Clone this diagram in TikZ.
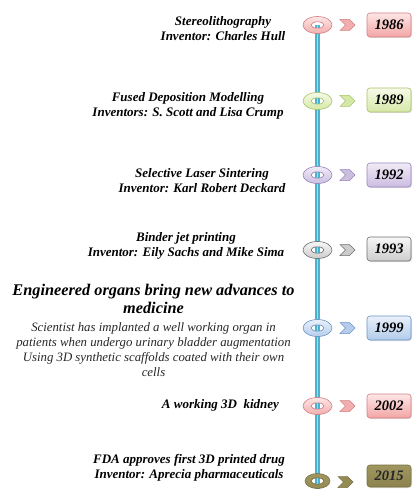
\documentclass[tikz,border=0pt]{standalone}
\usepackage{fontspec}
\setmainfont{Liberation Serif}
\newfontfamily\tnr{Liberation Serif}
\usetikzlibrary{shapes.geometric,shapes.symbols,shadows,backgrounds}
\definecolor{pinkborder}{HTML}{D27F82}
\definecolor{pinkfill}{HTML}{F2AEAE}
\definecolor{pinktop}{HTML}{FDE6E6}
\definecolor{pinkbot}{HTML}{F3A5A5}
\definecolor{greenborder}{HTML}{A6C46A}
\definecolor{greenfill}{HTML}{D5E8A6}
\definecolor{greentop}{HTML}{F6FAE9}
\definecolor{greenbot}{HTML}{D6E8A8}
\definecolor{purpleborder}{HTML}{9883BB}
\definecolor{purplefill}{HTML}{CBBEDF}
\definecolor{purpletop}{HTML}{F1ECF7}
\definecolor{purplebot}{HTML}{CBBCE0}
\definecolor{grayborder}{HTML}{6E6E6E}
\definecolor{grayfill}{HTML}{CCCCCC}
\definecolor{graytop}{HTML}{F7F7F7}
\definecolor{graybot}{HTML}{CDCDCD}
\definecolor{blueborder}{HTML}{6A92C7}
\definecolor{bluefill}{HTML}{B5CDEB}
\definecolor{bluetop}{HTML}{EAF1FB}
\definecolor{bluebot}{HTML}{B2CBEA}
\definecolor{oliveborder}{HTML}{7A7142}
\definecolor{olivefill}{HTML}{948A54}
\definecolor{olivetop}{HTML}{A0965F}
\definecolor{olivebot}{HTML}{8C824E}
\definecolor{linecol}{HTML}{4CB3CF}
\definecolor{linehi}{HTML}{9ADAE9}
\definecolor{bodytext}{HTML}{262626}
\tikzset{
  yearbox/.style={rectangle, rounded corners=3pt, minimum width=44pt, minimum height=24pt,
    inner sep=0pt, draw=#1border, line width=0.6pt, top color=#1top, bottom color=#1bot,
    drop shadow={opacity=0.25, shadow xshift=1pt, shadow yshift=-1pt},
    font=\tnr\bfseries\itshape\fontsize{14.5}{16}\selectfont},
  ringnode/.style={ellipse, minimum width=29pt, minimum height=17pt, inner sep=0pt,
    draw=#1border, line width=0.6pt,
    path picture={
      \shade[even odd rule, top color=#1top, bottom color=#1fill]
        (path picture bounding box.south west) rectangle (path picture bounding box.north east)
        (path picture bounding box.center) ellipse (6.5pt and 3.2pt);
      \draw[#1border, line width=0.6pt] (path picture bounding box.center) ellipse (6.5pt and 3.2pt);
    }},
  chev/.style={signal, signal to=east, signal from=west, draw=#1border, fill=#1fill,
    line width=0.5pt, minimum width=15pt, minimum height=11pt, inner sep=0pt},
  txt/.style={align=center, inner sep=0pt, font=\tnr\bfseries\itshape\fontsize{13}{15}\selectfont},
}
\begin{document}
\begin{tikzpicture}[x=1pt,y=-1pt]
\useasboundingbox (0,0) rectangle (412,489);
% rings
\node[ringnode=pink]   (r1) at (317.5,25)  {};
\node[ringnode=green]  (r2) at (317.5,101) {};
\node[ringnode=purple] (r3) at (317.5,175) {};
\node[ringnode=gray]   (r4) at (317.5,250) {};
\node[ringnode=blue]   (r5) at (317.5,328) {};
\node[ringnode=pink]   (r6) at (317.5,406) {};
\node[ringnode=olive, minimum width=25pt, minimum height=15pt] (r7) at (317.5,481) {};
\coordinate (bot) at (317.5,489);
\begin{pgfonlayer}{background}
\draw[linecol, line width=5pt] (r1.center) -- (bot);
\draw[linehi, line width=1.4pt] (r1.center) -- (bot);
\end{pgfonlayer}
% chevrons
\node[chev=pink]   (c1) at (347.5,25)  {};
\node[chev=green]  (c2) at (347.5,101) {};
\node[chev=purple] (c3) at (347.5,175) {};
\node[chev=gray]   (c4) at (347.5,250) {};
\node[chev=blue]   (c5) at (347.5,328) {};
\node[chev=pink]   (c6) at (347.5,406) {};
\node[chev=olive]  (c7) at (345.5,482) {};
% year boxes
\node[yearbox=pink]   (y1) at (389,25)  {1986};
\node[yearbox=green]  (y2) at (389,100) {1989};
\node[yearbox=purple] (y3) at (389,175) {1992};
\node[yearbox=gray]   (y4) at (389,249) {1993};
\node[yearbox=blue]   (y5) at (389,328) {1999};
\node[yearbox=pink]   (y6) at (389,406) {2002};
\node[yearbox=olive, minimum height=22pt, text=black!85] (y7) at (389,476) {2015};
% texts
\node[txt] (t1) at (223,28.5) {Stereolithography\\Inventor: Charles Hull};
\node[txt] (t2) at (188,105.5) {Fused Deposition Modelling\\Inventors: S. Scott and Lisa Crump};
\node[txt] (t3) at (202,181) {Selective Laser Sintering\\Inventor: Karl Robert Deckard};
\node[txt] (t4) at (186,245.5) {Binder jet printing\\Inventor: Eily Sachs and Mike Sima};
\node[txt, font=\tnr\bfseries\itshape\fontsize{16.3}{18.5}\selectfont] (t5) at (153.5,299)
  {Engineered organs bring new advances to\\medicine};
\node[align=center, inner sep=0pt, text=bodytext, font=\tnr\itshape\fontsize{12.8}{15}\selectfont] (t5b) at (153.5,349.5)
  {Scientist has implanted a well working organ in\\patients when undergo urinary bladder augmentation\\Using 3D synthetic scaffolds coated with their own\\cells};
\node[txt] (t6) at (220.5,405) {A working 3D~~kidney};
\node[txt] (t7) at (189,468) {FDA approves first 3D printed drug\\Inventor: Aprecia pharmaceuticals};
\end{tikzpicture}
\end{document}
